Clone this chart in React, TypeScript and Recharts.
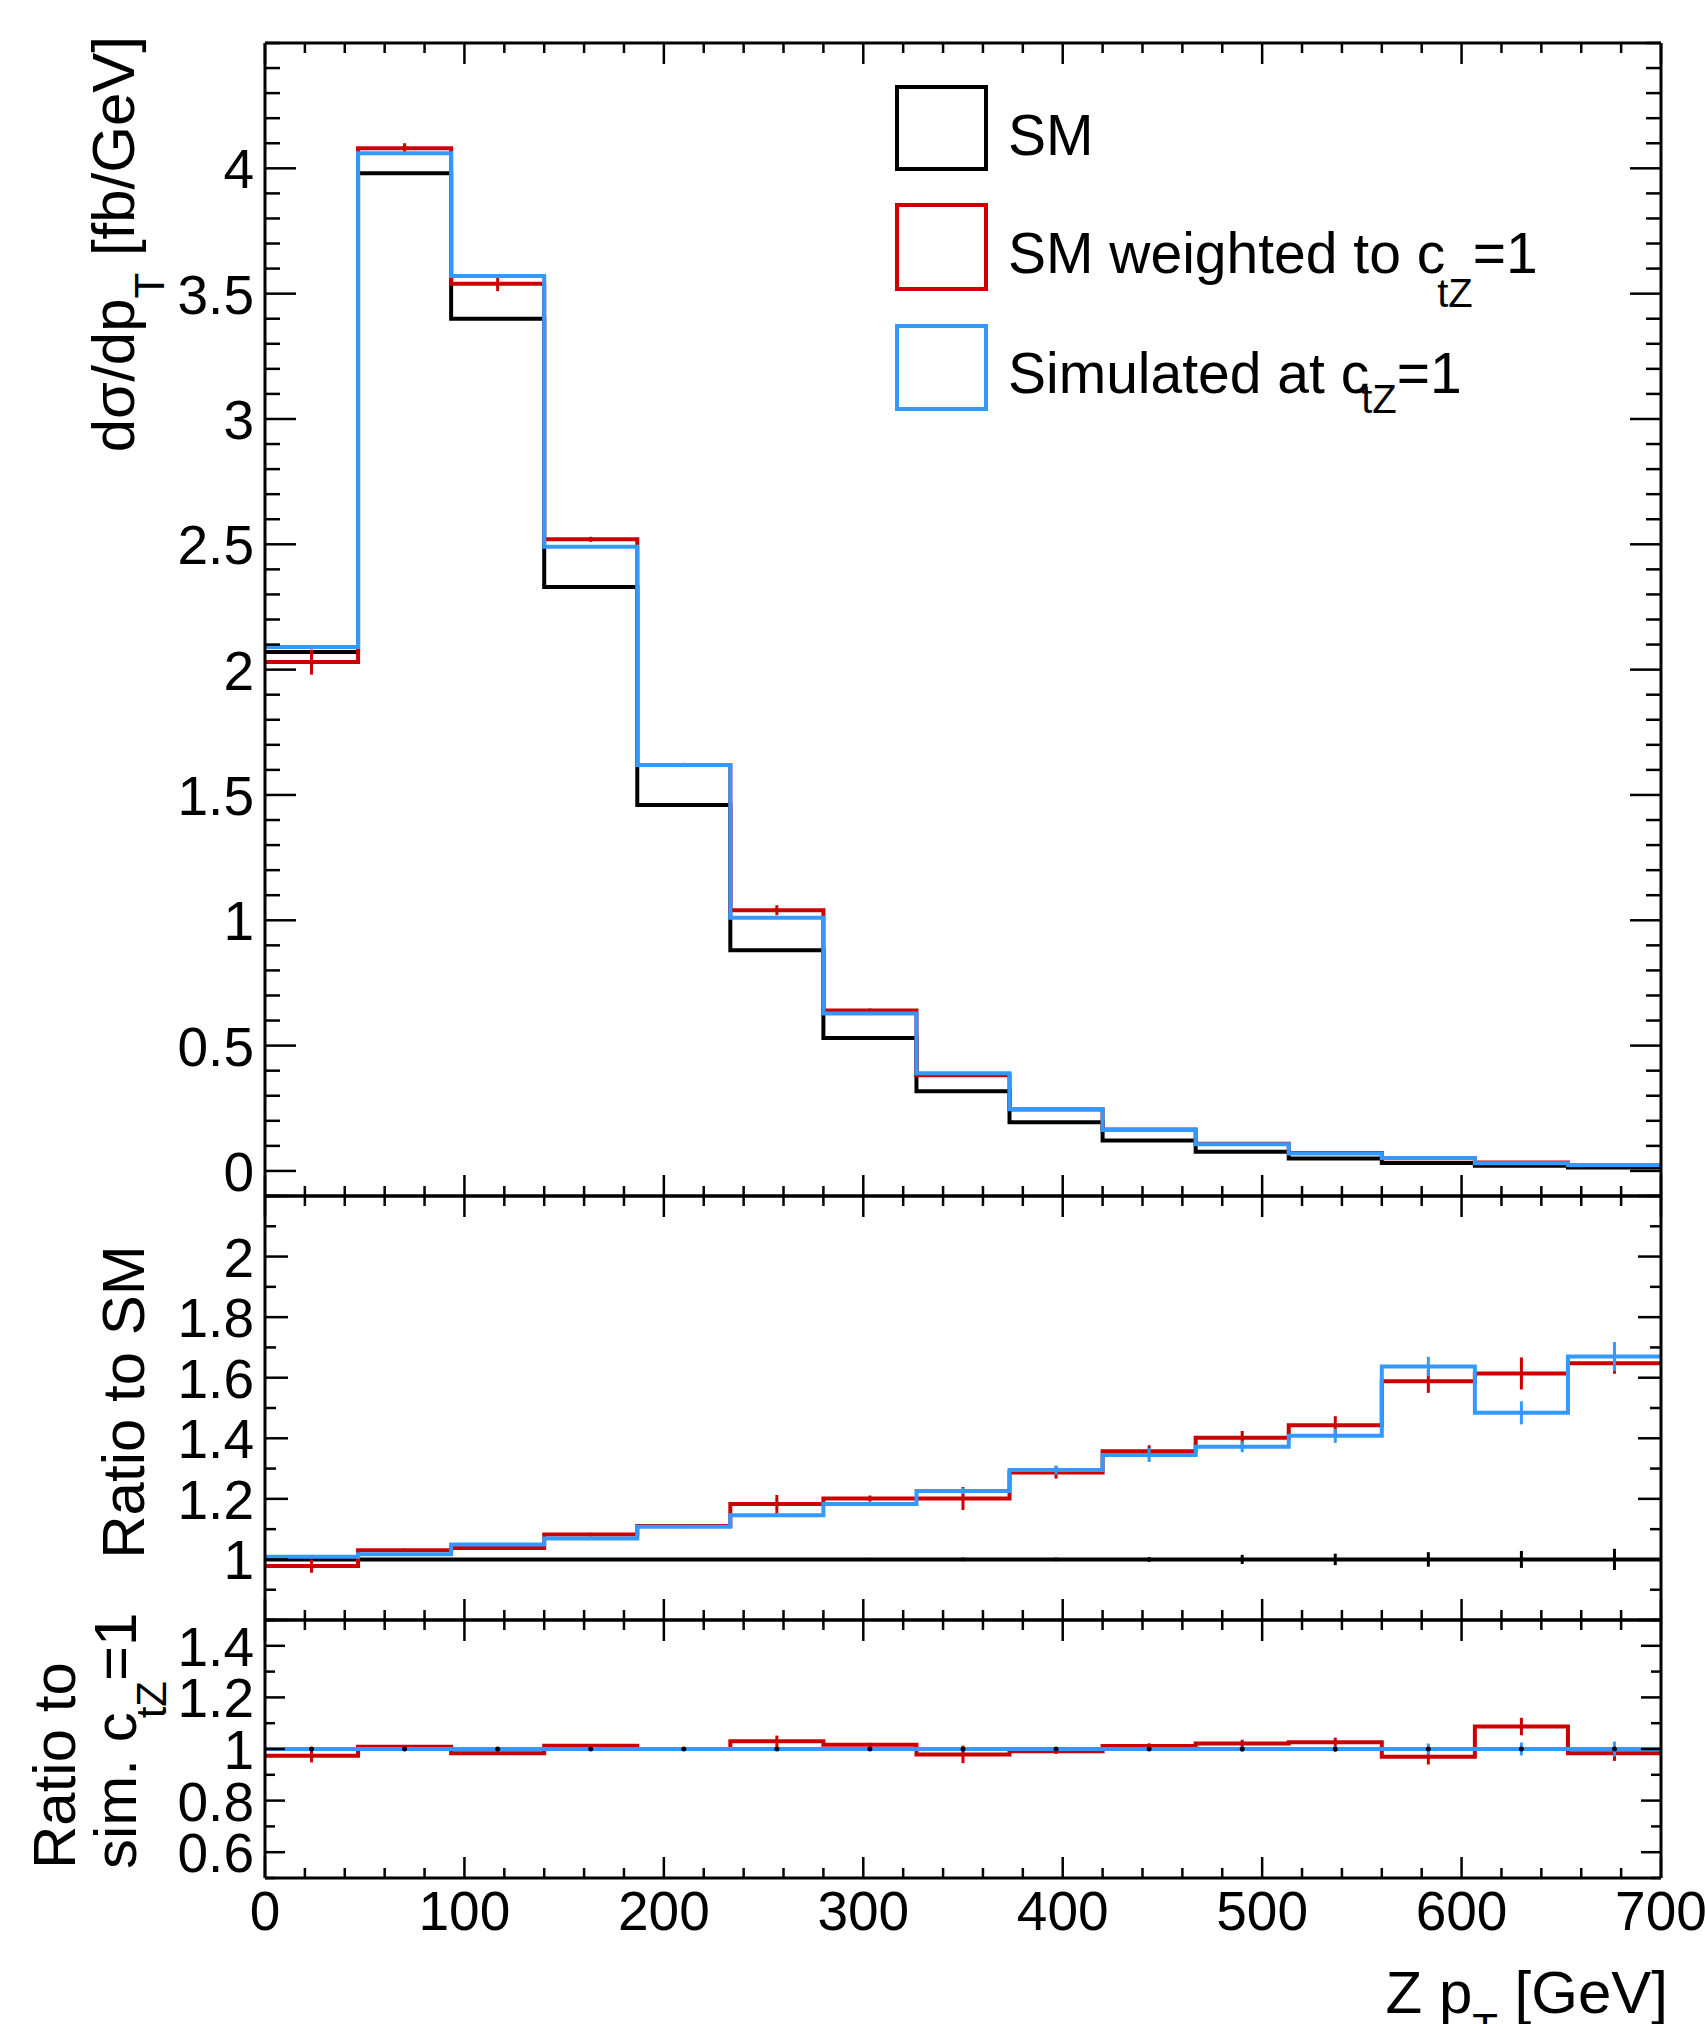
import { ComposedChart, Line, Scatter, ErrorBar, XAxis, YAxis } from "recharts"

// Z pT bins [GeV]
const binEdges = [0, 46.67, 93.33, 140, 186.67, 233.33, 280, 326.67, 373.33, 420, 466.67, 513.33, 560, 606.67, 653.33, 700]

// dsigma/dpT [fb/GeV]
const smXsec = [2.07, 3.98, 3.4, 2.33, 1.46, 0.88, 0.53, 0.318, 0.194, 0.121, 0.077, 0.05, 0.032, 0.021, 0.014]
const weightedXsec = [2.03, 4.08, 3.54, 2.52, 1.62, 1.04, 0.64, 0.382, 0.245, 0.165, 0.108, 0.072, 0.051, 0.034, 0.023]
const weightedXsecErr = [0.05, 0.02, 0.03, 0.01, 0.008, 0.02, 0.008, 0.006, 0.004, 0.003, 0.002, 0.002, 0.002, 0.002, 0.002]
const simXsec = [2.09, 4.06, 3.57, 2.49, 1.62, 1.01, 0.628, 0.39, 0.247, 0.163, 0.106, 0.07, 0.052, 0.031, 0.024]

// ratio to SM
const smRatio = [1, 1, 1, 1, 1, 1, 1, 1, 1, 1, 1, 1, 1, 1, 1]
const smRatioErr = [0.002, 0.002, 0.002, 0.003, 0.003, 0.004, 0.005, 0.006, 0.006, 0.008, 0.015, 0.019, 0.024, 0.028, 0.035]
const weightedRatio = [0.978, 1.03, 1.038, 1.082, 1.11, 1.183, 1.201, 1.201, 1.287, 1.357, 1.402, 1.443, 1.588, 1.614, 1.648]
const weightedRatioErr = [0.022, 0.006, 0.006, 0.006, 0.006, 0.03, 0.01, 0.038, 0.02, 0.02, 0.022, 0.03, 0.038, 0.053, 0.035]
const simRatio = [1.009, 1.017, 1.049, 1.069, 1.108, 1.146, 1.183, 1.226, 1.295, 1.345, 1.372, 1.408, 1.637, 1.484, 1.67]
const simRatioErr = [0.003, 0.003, 0.004, 0.004, 0.005, 0.006, 0.007, 0.01, 0.015, 0.023, 0.018, 0.023, 0.032, 0.038, 0.048]

// ratio to simulated ctZ=1
const weightedOverSim = [0.974, 1.009, 0.984, 1.013, 1.0, 1.03, 1.016, 0.979, 0.991, 1.012, 1.021, 1.026, 0.97, 1.087, 0.984]
const weightedOverSimErr = [0.026, 0.006, 0.006, 0.006, 0.005, 0.022, 0.008, 0.034, 0.01, 0.01, 0.015, 0.018, 0.03, 0.034, 0.03]
const simOverSim = [1, 1, 1, 1, 1, 1, 1, 1, 1, 1, 1, 1, 1, 1, 1]
const simOverSimErr = [0.002, 0.002, 0.002, 0.003, 0.003, 0.004, 0.005, 0.006, 0.006, 0.008, 0.01, 0.012, 0.021, 0.025, 0.029]

// axis labels
const xLabels = [0, 100, 200, 300, 400, 500, 600, 700]
const mainYLabels = [0, 0.5, 1, 1.5, 2, 2.5, 3, 3.5, 4]
const ratioYLabels = [1, 1.2, 1.4, 1.6, 1.8, 2]
const ratioYMajors = [0.8, 1, 1.2, 1.4, 1.6, 1.8, 2, 2.2]
const lowerYLabels = [0.6, 0.8, 1, 1.2, 1.4]

const W = 1705
const H = 2024
const LEFT = 265
const RIGHT = 1661
const BLACK = "#000000"
const RED = "#cc0000"
const BLUE = "#3399ff"
const FONT = "'Liberation Sans', Arial, Helvetica, sans-serif"

const steps = (a: number, b: number, d: number) =>
  Array.from({ length: Math.round((b - a) / d) + 1 }, (_, i) => +(a + i * d).toFixed(4))
const near = (list: number[], v: number) => list.some((m) => Math.abs(m - v) < 1e-6)

const xMinor = steps(0, 700, 20)

type Side = "left" | "right" | "top" | "bottom"

function makeTick(side: Side, majors: number[], majorLen: number, minorLen: number, labels?: number[]) {
  return (props: any) => {
    const { x, y, payload } = props
    const v = Number(payload.value)
    const len = near(majors, v) ? majorLen : minorLen
    let x2 = x
    let y2 = y
    if (side === "left") x2 = x + len
    if (side === "right") x2 = x - len
    if (side === "bottom") y2 = y - len
    if (side === "top") y2 = y + len
    const showLabel = labels && near(labels, v)
    return (
      <g>
        <line x1={x} y1={y} x2={x2} y2={y2} stroke={BLACK} strokeWidth={2.5} />
        {showLabel && side === "left" && (
          <text x={x - 11} y={y + 20} textAnchor="end" fontSize={55} fontFamily={FONT} fill={BLACK}>
            {String(v)}
          </text>
        )}
        {showLabel && side === "bottom" && (
          <text x={x} y={y + 52} textAnchor="middle" fontSize={55} fontFamily={FONT} fill={BLACK}>
            {String(v)}
          </text>
        )}
      </g>
    )
  }
}

const stepRows = (values: number[]) =>
  binEdges.map((x, i) => ({ x, y: values[Math.min(i, values.length - 1)] }))
const centerRows = (values: number[], errs: number[]) =>
  values.map((y, i) => ({ x: (binEdges[i] + binEdges[i + 1]) / 2, y, err: errs[i] }))

function histLine(id: string, values: number[], color: string) {
  return (
    <Line
      key={id}
      data={stepRows(values)}
      dataKey="y"
      type="stepAfter"
      stroke={color}
      strokeWidth={4}
      dot={false}
      activeDot={false}
      isAnimationActive={false}
    />
  )
}

function errorPoints(id: string, values: number[], errs: number[], color: string, dotColor?: string) {
  return (
    <Scatter
      key={id}
      data={centerRows(values, errs)}
      dataKey="y"
      isAnimationActive={false}
      shape={(p: any) => (dotColor ? <circle cx={p.cx} cy={p.cy} r={2.5} fill={dotColor} /> : <g />)}
    >
      <ErrorBar dataKey="err" direction="y" width={0} stroke={color} strokeWidth={3} isAnimationActive={false} />
    </Scatter>
  )
}

interface PanelProps {
  top: number
  bottom: number
  domain: [number, number]
  yMinor: number[]
  yMajors: number[]
  yLabels: number[]
  yMajorLen: number
  yMinorLen: number
  showX: boolean
  children: any
}

// axes take 1px each so that recharts draws them; margins compensate
function Panel({ top, bottom, domain, yMinor, yMajors, yLabels, yMajorLen, yMinorLen, showX, children }: PanelProps) {
  const axisLine = { stroke: BLACK, strokeWidth: 3 }
  return (
    <div style={{ position: "absolute", left: 0, top: 0 }}>
      <ComposedChart
        width={W}
        height={H}
        margin={{ top: top - 1, bottom: H - bottom - 1, left: LEFT - 1, right: W - RIGHT - 1 }}
      >
        <XAxis
          type="number"
          dataKey="x"
          domain={[0, 700]}
          allowDataOverflow
          ticks={xMinor}
          interval={0}
          height={1}
          tickSize={0}
          tickMargin={0}
          tickLine={false}
          axisLine={axisLine}
          tick={makeTick("bottom", xLabels, 21, 10, showX ? xLabels : undefined)}
        />
        <XAxis
          xAxisId="top"
          orientation="top"
          type="number"
          dataKey="x"
          domain={[0, 700]}
          allowDataOverflow
          ticks={xMinor}
          interval={0}
          height={1}
          tickSize={0}
          tickMargin={0}
          tickLine={false}
          axisLine={axisLine}
          tick={makeTick("top", xLabels, 21, 10)}
        />
        <YAxis
          type="number"
          domain={domain}
          allowDataOverflow
          ticks={yMinor}
          interval={0}
          width={1}
          tickSize={0}
          tickMargin={0}
          tickLine={false}
          axisLine={axisLine}
          tick={makeTick("left", yMajors, yMajorLen, yMinorLen, yLabels)}
        />
        <YAxis
          yAxisId="right"
          orientation="right"
          type="number"
          domain={domain}
          allowDataOverflow
          ticks={yMinor}
          interval={0}
          width={1}
          tickSize={0}
          tickMargin={0}
          tickLine={false}
          axisLine={axisLine}
          tick={makeTick("right", yMajors, yMajorLen, yMinorLen)}
        />
        {children}
      </ComposedChart>
    </div>
  )
}

export default function App() {
  return (
    <div style={{ position: "absolute", left: 0, top: 0, width: W, height: H, background: "#ffffff", overflow: "hidden" }}>
      <Panel
        top={43}
        bottom={1196}
        domain={[-0.1, 4.5]}
        yMinor={steps(-0.1, 4.5, 0.1)}
        yMajors={mainYLabels}
        yLabels={mainYLabels}
        yMajorLen={31}
        yMinorLen={15}
        showX={false}
      >
        {histLine("sm", smXsec, BLACK)}
        {histLine("w", weightedXsec, RED)}
        {errorPoints("we", weightedXsec, weightedXsecErr, RED)}
        {histLine("sim", simXsec, BLUE)}
      </Panel>
      <Panel
        top={1196}
        bottom={1620}
        domain={[0.8, 2.2]}
        yMinor={steps(0.8, 2.2, 0.1)}
        yMajors={ratioYMajors}
        yLabels={ratioYLabels}
        yMajorLen={23}
        yMinorLen={11}
        showX={false}
      >
        {histLine("rsm", smRatio, BLACK)}
        {errorPoints("rsme", smRatio, smRatioErr, BLACK)}
        {histLine("rw", weightedRatio, RED)}
        {errorPoints("rwe", weightedRatio, weightedRatioErr, RED)}
        {histLine("rsim", simRatio, BLUE)}
        {errorPoints("rsime", simRatio, simRatioErr, BLUE)}
      </Panel>
      <Panel
        top={1620}
        bottom={1878}
        domain={[0.5, 1.5]}
        yMinor={steps(0.5, 1.5, 0.1)}
        yMajors={lowerYLabels}
        yLabels={lowerYLabels}
        yMajorLen={20}
        yMinorLen={10}
        showX={true}
      >
        {histLine("lw", weightedOverSim, RED)}
        {errorPoints("lwe", weightedOverSim, weightedOverSimErr, RED)}
        {histLine("lsim", simOverSim, BLUE)}
        {errorPoints("lsime", simOverSim, simOverSimErr, BLUE, BLACK)}
      </Panel>

      <svg width={W} height={H} style={{ position: "absolute", left: 0, top: 0 }} fontFamily={FONT} fill={BLACK}>
        {/* axis titles */}
        <text x={134} y={36} transform="rotate(-90 134 36)" textAnchor="end" fontSize={60}>
          dσ/dp<tspan fontSize={42} dy={30}>T</tspan>
          <tspan dy={-30}> [fb/GeV]</tspan>
        </text>
        <text x={144} y={1402} transform="rotate(-90 144 1402)" textAnchor="middle" fontSize={60}>
          Ratio to SM
        </text>
        <text x={75} y={1869} transform="rotate(-90 75 1869)" textAnchor="start" fontSize={60}>
          Ratio to
        </text>
        <text x={136} y={1869} transform="rotate(-90 136 1869)" textAnchor="start" fontSize={60}>
          sim. c<tspan fontSize={42} dx={-6} dy={30}>tZ</tspan>
          <tspan dy={-30}>=1</tspan>
        </text>
        <text x={1668} y={2013} textAnchor="end" fontSize={60}>
          Z p<tspan fontSize={42} dy={30}>T</tspan>
          <tspan dy={-30}> [GeV]</tspan>
        </text>

        {/* legend */}
        <rect x={897} y={87} width={89} height={82} fill="none" stroke={BLACK} strokeWidth={4} />
        <rect x={897} y={205} width={89} height={84} fill="none" stroke={RED} strokeWidth={4} />
        <rect x={897} y={326} width={89} height={83} fill="none" stroke={BLUE} strokeWidth={4} />
        <text x={1008} y={155} fontSize={57}>
          SM
        </text>
        <text x={1008} y={273} fontSize={57}>
          SM weighted to c<tspan fontSize={40} dx={-8} dy={34}>tZ</tspan>
          <tspan dy={-34}>=1</tspan>
        </text>
        <text x={1008} y={393} fontSize={57}>
          Simulated at c<tspan fontSize={40} dx={-8} dy={20}>tZ</tspan>
          <tspan dy={-20}>=1</tspan>
        </text>
      </svg>
    </div>
  )
}
